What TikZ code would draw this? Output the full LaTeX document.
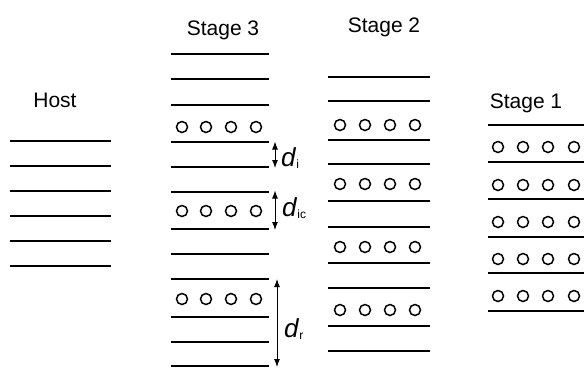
\documentclass[tikz,border=0pt]{standalone}
\usepackage{fontspec}
\setmainfont{Liberation Sans}
\usetikzlibrary{arrows.meta}
\begin{document}
\begin{tikzpicture}[x=1pt,y=-1pt,
  layer/.style={line width=2pt},
  ion/.style={line width=1.5pt},
  dimarrow/.style={line width=1pt,{Latex[length=8pt,width=6pt]}-{Latex[length=8pt,width=6pt]}},
  title/.style={anchor=base,inner sep=0pt,font=\fontsize{21}{24}\selectfont},
  dlab/.style={anchor=base west,inner sep=0pt,font=\fontsize{26}{28}\selectfont}]
\useasboundingbox (0,0) rectangle (584,368);
\newcommand{\dsub}[1]{\textit{d}\raisebox{-2pt}{\fontsize{12}{13}\selectfont #1}}
% titles
\node[title] (host) at (55,107) {Host};
\node[title] (s3) at (223,35) {Stage 3};
\node[title] (s2) at (384,32) {Stage 2};
\node[title] (s1) at (526,108) {Stage 1};
% host layers
\foreach \y in {141,166,191,216,241,266} \draw[layer] (10,\y) -- (111,\y);
% stage 3 layers
\foreach \y in {54,79,105,142,167,192,229,254,279,317,342,366} \draw[layer] (171,\y) -- (269,\y);
\foreach \y in {127,211,299} \foreach \x in {182,206,231,256} \draw[ion] (\x,\y) circle (5.5pt);
% stage 2 layers
\foreach \y in {77,101,140,164,201,227,263,288,326,351} \draw[layer] (328,\y) -- (430,\y);
\foreach \y in {125,184,247,310} \foreach \x in {340,365,390,415} \draw[ion] (\x,\y) circle (5.5pt);
% stage 1 layers
\foreach \y in {125,162,199,237,273,311} \draw[layer] (488,\y) -- (584,\y);
\foreach \y in {147,185,222,259,296} \foreach \x in {498,523,548,574} \draw[ion] (\x,\y) circle (5.5pt);
% dimension arrows
\coordinate (di1) at (275,141.5);
\coordinate (di2) at (275,168);
\coordinate (dic1) at (275,190.5);
\coordinate (dic2) at (275,230);
\coordinate (dr1) at (277,279);
\coordinate (dr2) at (277,367);
\draw[dimarrow] (di1) -- (di2);
\draw[dimarrow] (dic1) -- (dic2);
\draw[dimarrow] (dr1) -- (dr2);
\node[dlab] (ldi) at (281,166) {\dsub{i}};
\node[dlab] (ldic) at (282,216) {\dsub{ic}};
\node[dlab] (ldr) at (284,337) {\dsub{r}};
\end{tikzpicture}
\end{document}
